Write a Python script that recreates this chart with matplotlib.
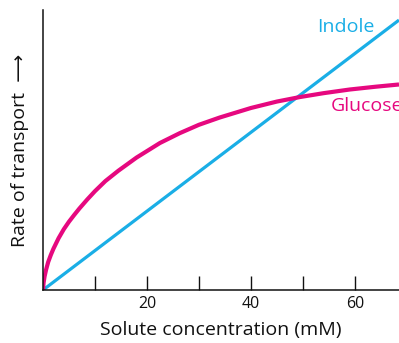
import matplotlib
matplotlib.use("Agg")
import matplotlib.pyplot as plt

plt.rcParams['font.family'] = ['Open Sans', 'DejaVu Sans']

# Solute concentration (mM) and relative transport rates
indole_conc = [0, 68.5]
indole_rate = [0, 96.4]

glucose_conc = [0, 0.1, 0.3, 0.6, 1, 1.5, 2, 3, 4, 5, 6, 7, 8.5, 10, 12,
                14.5, 18, 20.6, 22.5, 26.3, 30, 34, 40, 45, 49.4, 54, 59,
                64, 68.5]
glucose_rate = [0, 2.4, 4.8, 7.3, 10, 12.5, 14.7, 18.5, 21.7, 24.4, 26.8,
                29.1, 32.3, 35.3, 38.9, 42.6, 47.3, 50.3, 52.5, 56, 59, 61.6,
                65, 67.3, 68.9, 70.3, 71.6, 72.6, 73.4]

minor_ticks = [10, 20, 30, 40, 50, 60]
labeled_ticks = [20, 40, 60]

INDOLE_COLOR = '#1aaee6'
GLUCOSE_COLOR = '#e6087f'
INK = '#111111'

fig = plt.figure(figsize=(3.99, 3.43), dpi=100)
ax = fig.add_axes([43 / 399, 53 / 343, 1 - 43 / 399, 280 / 343])

ax.plot(indole_conc, indole_rate, color=INDOLE_COLOR, lw=2.3,
        solid_capstyle='butt')
ax.plot(glucose_conc, glucose_rate, color=GLUCOSE_COLOR, lw=3.0,
        solid_capstyle='butt', solid_joinstyle='round')

ax.set_xlim(0, 68.5)
ax.set_ylim(0, 100)

for side in ('top', 'right'):
    ax.spines[side].set_visible(False)
for side in ('left', 'bottom'):
    ax.spines[side].set_linewidth(1.1)
    ax.spines[side].set_color(INK)

ax.set_xticks(minor_ticks)
ax.set_xticklabels([str(t) if t in labeled_ticks else '' for t in minor_ticks])
ax.tick_params(axis='x', direction='in', length=10, width=1.0,
               color=INK, labelsize=11.5, pad=4, labelcolor=INK)
ax.set_yticks([])

ax.set_xlabel('Solute concentration (mM)', fontsize=14, labelpad=7,
              color=INK)
ax.set_ylabel('Rate of transport  \u27f6', fontsize=14, labelpad=10,
              color=INK)

fig.text(317 / 399, 1 - 27 / 343, 'Indole', color=INDOLE_COLOR,
         fontsize=14, ha='left', va='center')
# The label runs past the right edge, so its last letter is clipped
fig.text(331 / 399, 1 - 106 / 343, 'Glucose', color=GLUCOSE_COLOR,
         fontsize=14, ha='left', va='center')

fig.savefig('out.png', dpi=100)
